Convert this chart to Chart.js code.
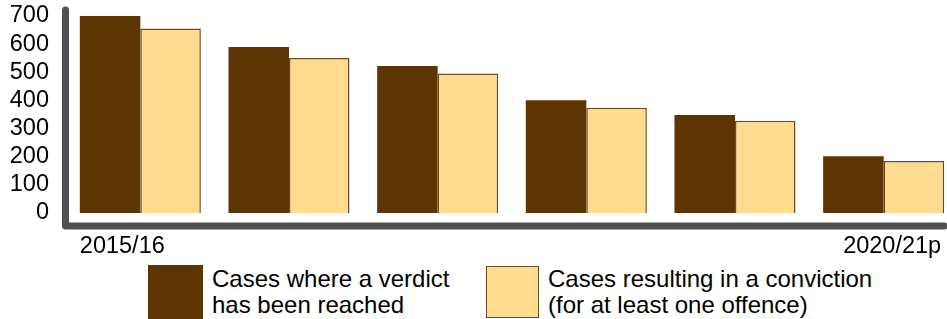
<!DOCTYPE html>
<html>
<head>
<meta charset="utf-8">
<script src="https://cdn.jsdelivr.net/npm/chart.js@4/dist/chart.umd.min.js"></script>
<style>
  html, body { margin: 0; padding: 0; background: #fff; overflow: hidden; }
  #wrap { position: relative; width: 947px; height: 319px; overflow: hidden; }
  #chart { position: absolute; left: 0; top: 0; }
  .lg { position: absolute; font-family: "Liberation Sans", Arial, sans-serif; font-size: 24px; line-height: 26px; color: #000; white-space: nowrap; }
  .box { position: absolute; box-sizing: border-box; }
</style>
</head>
<body>
<div id="wrap">
  <canvas id="chart" width="958" height="262"></canvas>
  <div class="box" id="box0" style="left:148px; top:265px; width:55px; height:54px;"></div>
  <div class="lg" id="txt0" style="left:212px; top:266px;"></div>
  <div class="box" id="box1" style="left:486px; top:266px; width:53px; height:52px;"></div>
  <div class="lg" id="txt1" style="left:548px; top:266px;"></div>
</div>
<script>
// data
var years = ["2015/16", "2016/17", "2017/18", "2018/19", "2019/20", "2020/21p"];
var verdictCases = [700, 590, 522, 401, 348, 202];
var convictionCases = [656, 551, 496, 374, 328, 185];
var yTicks = [0, 100, 200, 300, 400, 500, 600, 700];
var seriesNames = [
  ["Cases where a verdict", "has been reached"],
  ["Cases resulting in a conviction", "(for at least one offence)"]
];

var darkBrown = "#5c3503";
var lightYellow = "#ffdb90";
var edge = "#6e4b1c";
var font = '"Liberation Sans", Arial, sans-serif';

// thick grey L-shaped axis plus first/last year labels
var axisPlugin = {
  id: "axisPlugin",
  afterDraw: function (chart) {
    var c = chart.ctx;
    var area = chart.chartArea;
    var m0 = chart.getDatasetMeta(0).data;
    var m1 = chart.getDatasetMeta(1).data;
    var firstLeft = m0[0].x - m0[0].width / 2;
    var lastRight = m1[m1.length - 1].x + m1[m1.length - 1].width / 2;
    var baseY = chart.scales.y.getPixelForValue(0) + 13;

    c.save();
    c.strokeStyle = "#505050";
    c.lineWidth = 7;
    c.lineCap = "round";
    c.lineJoin = "round";
    c.beginPath();
    c.moveTo(area.left - 0.5, 10);
    c.lineTo(area.left - 0.5, baseY);
    c.lineTo(lastRight, baseY);
    c.stroke();

    c.fillStyle = "#000";
    c.font = "23.5px " + font;
    c.textBaseline = "middle";
    c.textAlign = "left";
    c.fillText(years[0], firstLeft, 247);
    c.textAlign = "right";
    c.fillText(years[years.length - 1], lastRight - 3, 247);
    c.restore();
  }
};

var chart = new Chart(document.getElementById("chart"), {
  type: "bar",
  data: {
    labels: years,
    datasets: [
      {
        label: seriesNames[0].join(" "),
        data: verdictCases,
        backgroundColor: darkBrown,
        borderWidth: 0
      },
      {
        label: seriesNames[1].join(" "),
        data: convictionCases,
        backgroundColor: lightYellow,
        borderColor: edge,
        borderWidth: 1.5
      }
    ]
  },
  options: {
    responsive: false,
    animation: false,
    layout: { padding: { top: 16, bottom: 49, right: 0, left: 0 } },
    datasets: { bar: { categoryPercentage: 0.814, barPercentage: 1.0 } },
    plugins: { legend: { display: false }, tooltip: { enabled: false } },
    scales: {
      x: { display: false },
      y: {
        min: 0,
        max: 700,
        afterFit: function (s) { s.width = 66; s.paddingTop = 0; s.paddingBottom = 0; },
        afterBuildTicks: function (s) { s.ticks = yTicks.map(function (v) { return { value: v }; }); },
        grid: { display: false },
        border: { display: false },
        ticks: { color: "#000", padding: 9, autoSkip: false, font: { family: font, size: 23.5 } }
      }
    }
  },
  plugins: [axisPlugin]
});

// legend built from the chart's datasets
chart.data.datasets.forEach(function (ds, i) {
  var b = document.getElementById("box" + i);
  b.style.background = ds.backgroundColor;
  if (ds.borderWidth) b.style.border = ds.borderWidth + "px solid " + ds.borderColor;
  document.getElementById("txt" + i).innerHTML = seriesNames[i].join("<br>");
});
</script>
</body>
</html>
